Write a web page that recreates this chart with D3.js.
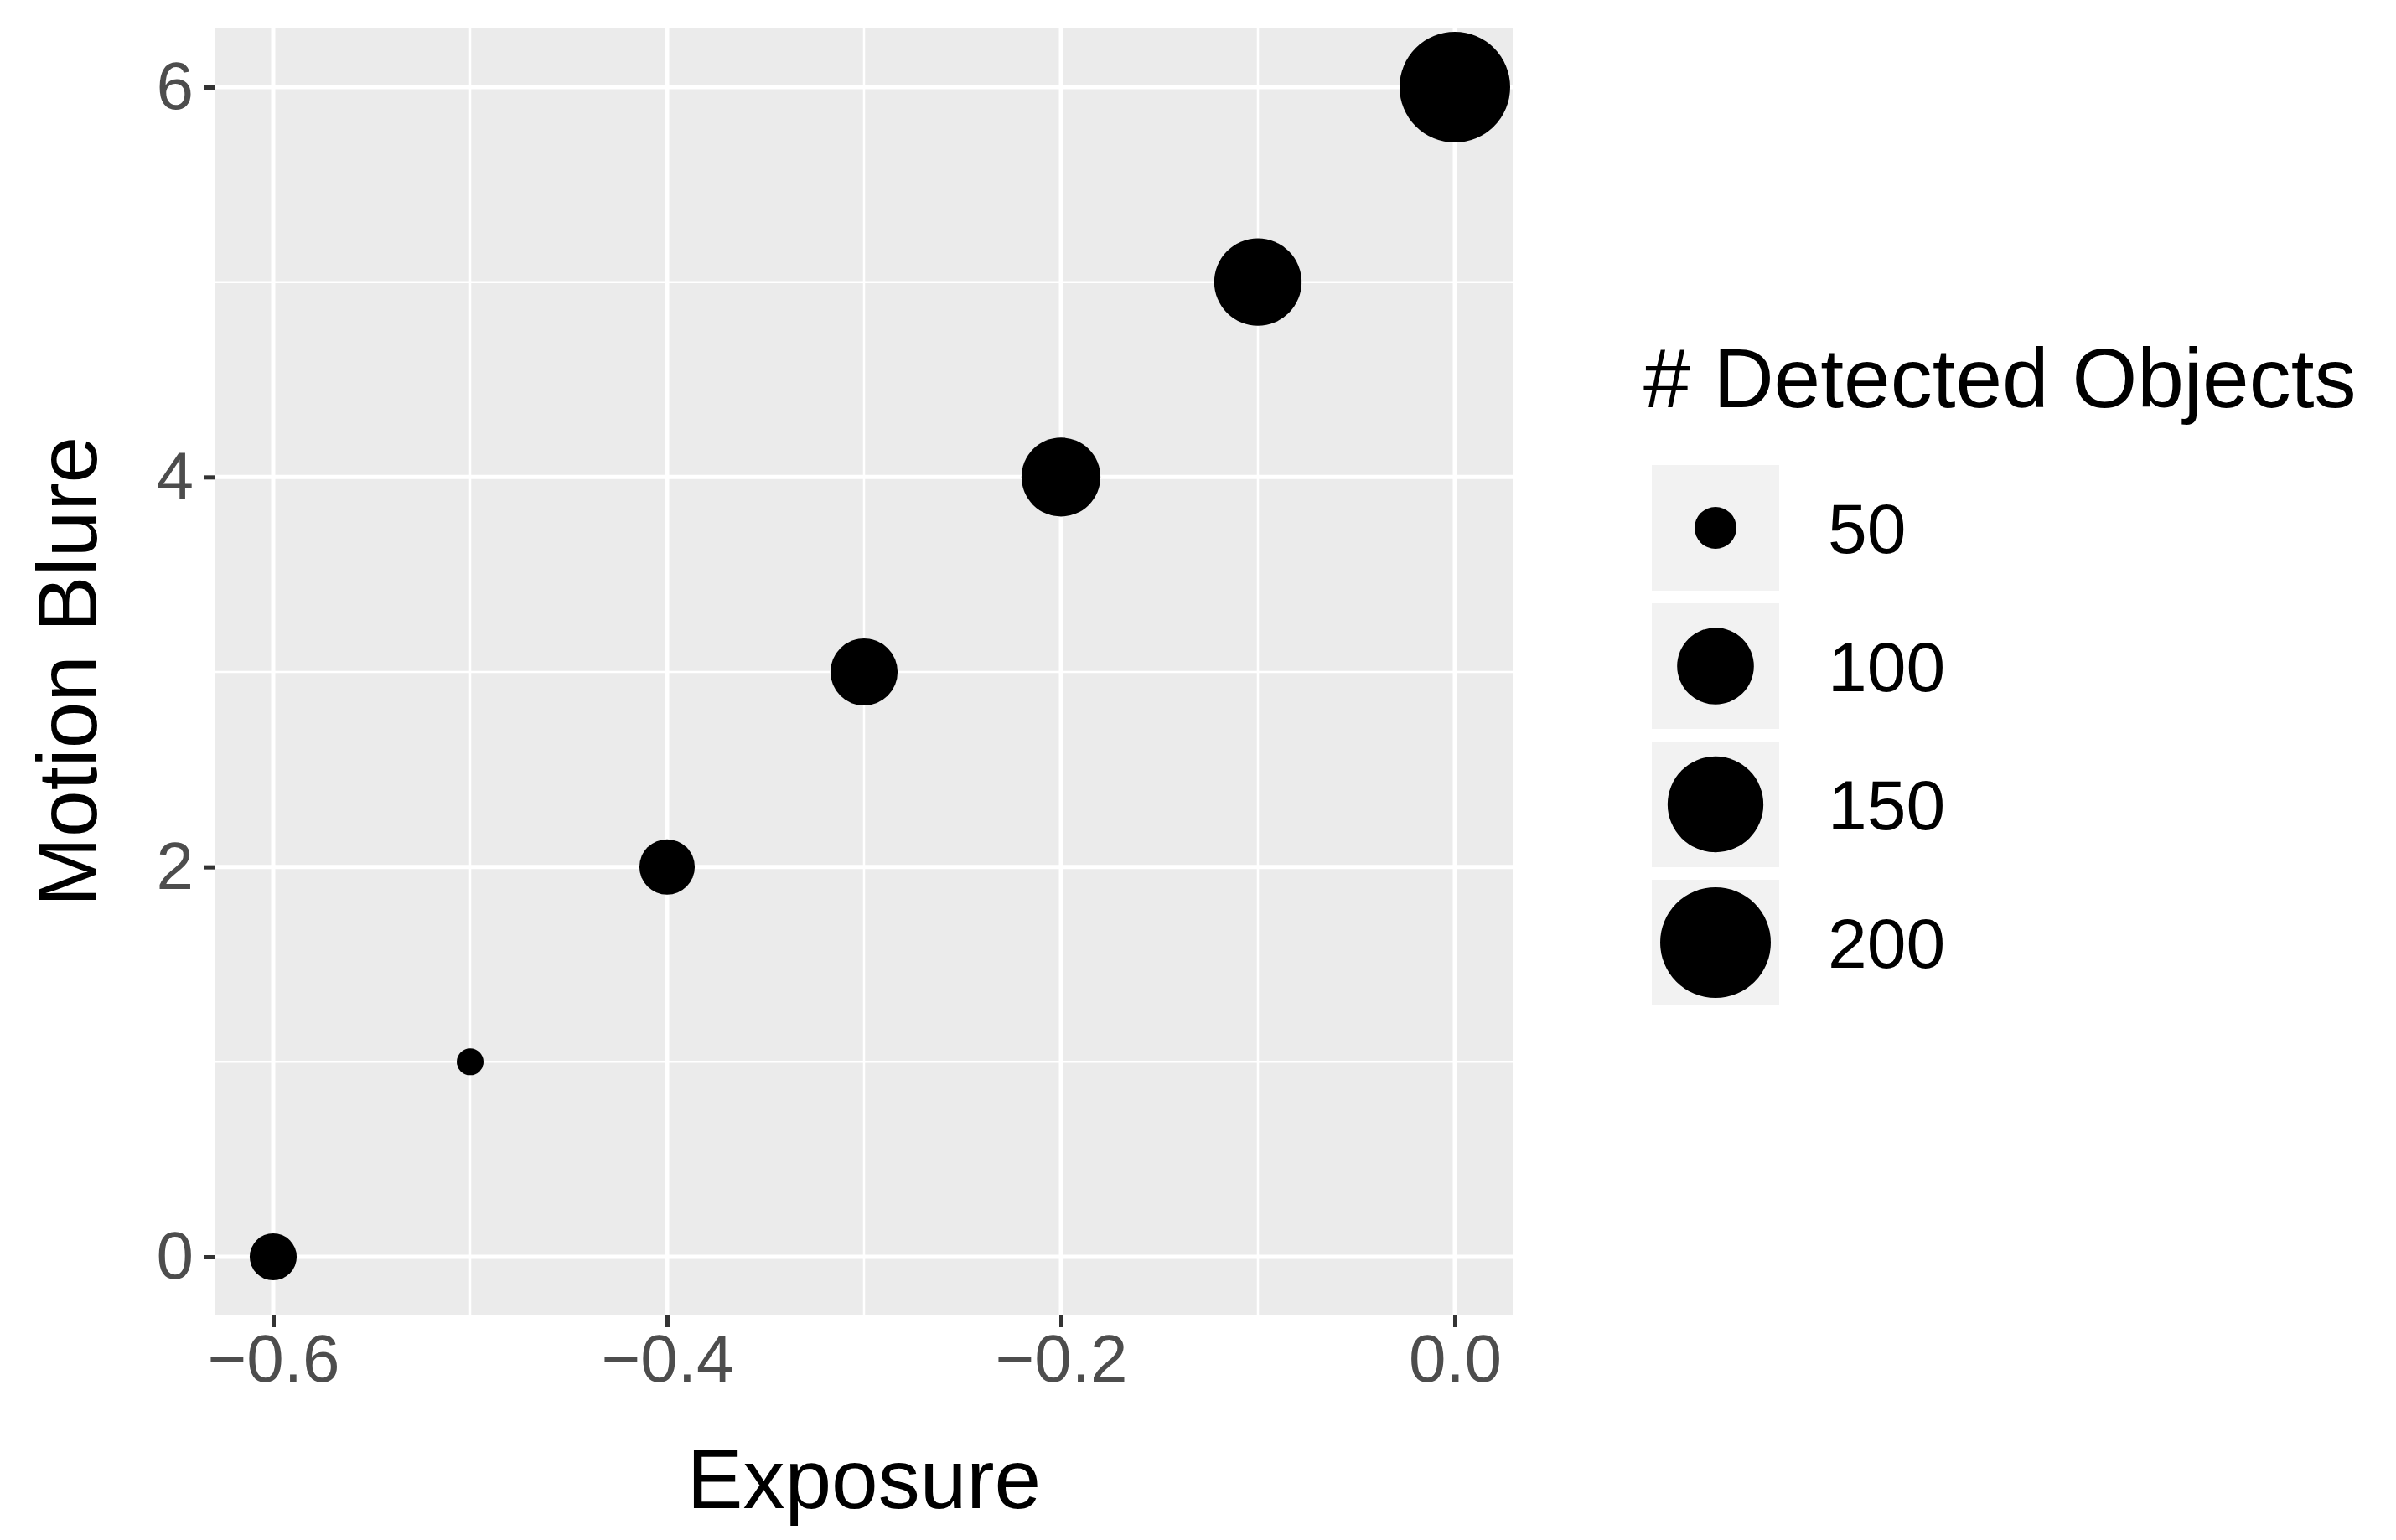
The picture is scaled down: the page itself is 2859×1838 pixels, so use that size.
<!DOCTYPE html>
<html><head><meta charset="utf-8">
<script src="https://cdn.jsdelivr.net/npm/d3@7"></script>
<style>body{margin:0;background:#fff}text{font-family:"Liberation Sans",Arial,sans-serif}</style>
</head><body><div id="chart"></div>
<script>
// data
var exposure = [-0.6, -0.5, -0.4, -0.3, -0.2, -0.1, 0.0];
var blur = [0, 1, 2, 3, 4, 5, 6];
var detected = [54, 45, 63, 81, 105, 126, 200];
var xTicks = [-0.6, -0.4, -0.2, 0.0];
var yTicks = [0, 2, 4, 6];
var legendValues = [50, 100, 150, 200];

var W = 2859, H = 1838;
var panel = {left: 257, right: 1805, top: 33, bottom: 1570};

var svg = d3.select("#chart").append("svg")
  .attr("width", W).attr("height", H);

var x = d3.scaleLinear().domain([-0.6, 0]).range([326, 1736]);
var y = d3.scaleLinear().domain([0, 6]).range([1500, 104]);

// size scale like ggplot area palette
var vmin = 45, vmax = 200;
function r(v) { return 16 + 50 * Math.sqrt(Math.max(0, (v - vmin) / (vmax - vmin))); }

svg.append("rect")
  .attr("x", panel.left).attr("y", panel.top)
  .attr("width", panel.right - panel.left).attr("height", panel.bottom - panel.top)
  .attr("fill", "#EBEBEB");

// minor grid
[-0.5, -0.3, -0.1].forEach(function (v) {
  svg.append("line").attr("x1", x(v)).attr("x2", x(v)).attr("y1", panel.top).attr("y2", panel.bottom)
    .attr("stroke", "#fff").attr("stroke-width", 2.5);
});
[1, 3, 5].forEach(function (v) {
  svg.append("line").attr("y1", y(v)).attr("y2", y(v)).attr("x1", panel.left).attr("x2", panel.right)
    .attr("stroke", "#fff").attr("stroke-width", 2.5);
});
// major grid
xTicks.forEach(function (v) {
  svg.append("line").attr("x1", x(v)).attr("x2", x(v)).attr("y1", panel.top).attr("y2", panel.bottom)
    .attr("stroke", "#fff").attr("stroke-width", 5);
});
yTicks.forEach(function (v) {
  svg.append("line").attr("y1", y(v)).attr("y2", y(v)).attr("x1", panel.left).attr("x2", panel.right)
    .attr("stroke", "#fff").attr("stroke-width", 5);
});

// axes
var xAxis = svg.append("g").attr("transform", "translate(0," + panel.bottom + ")")
  .call(d3.axisBottom(x).tickValues(xTicks).tickSize(14).tickPadding(8)
    .tickFormat(function (d) { return d3.format(".1f")(d).replace("-", "\u2212"); }));
var yAxis = svg.append("g").attr("transform", "translate(" + panel.left + ",0)")
  .call(d3.axisLeft(y).tickValues(yTicks).tickSize(14).tickPadding(12).tickFormat(d3.format("d")));
[xAxis, yAxis].forEach(function (g) {
  g.select(".domain").remove();
  g.selectAll("line").attr("stroke", "#333").attr("stroke-width", 5);
  g.selectAll("text").attr("fill", "#4D4D4D").style("font-size", "80px");
});

// points
svg.append("g").selectAll("circle").data(exposure).join("circle")
  .attr("cx", function (d) { return x(d); })
  .attr("cy", function (d, i) { return y(blur[i]); })
  .attr("r", function (d, i) { return r(detected[i]); })
  .attr("fill", "#000");

// titles
svg.append("text").attr("x", (panel.left + panel.right) / 2).attr("y", 1800)
  .attr("text-anchor", "middle").style("font-size", "100px").text("Exposure");
svg.append("text").attr("transform", "translate(115," + (panel.top + panel.bottom) / 2 + ") rotate(-90)")
  .attr("text-anchor", "middle").style("font-size", "100px").text("Motion Blure");

// legend
var lg = svg.append("g");
lg.append("text").attr("x", 1961).attr("y", 486).style("font-size", "100px").text("# Detected Objects");
legendValues.forEach(function (v, i) {
  var top = 555 + i * 165;
  lg.append("rect").attr("x", 1971).attr("y", top).attr("width", 152).attr("height", 150).attr("fill", "#F2F2F2");
  lg.append("circle").attr("cx", 2047).attr("cy", top + 75).attr("r", r(v)).attr("fill", "#000");
  lg.append("text").attr("x", 2181).attr("y", top + 75).attr("dy", "0.36em").style("font-size", "84px").text(v);
});
</script></body></html>
